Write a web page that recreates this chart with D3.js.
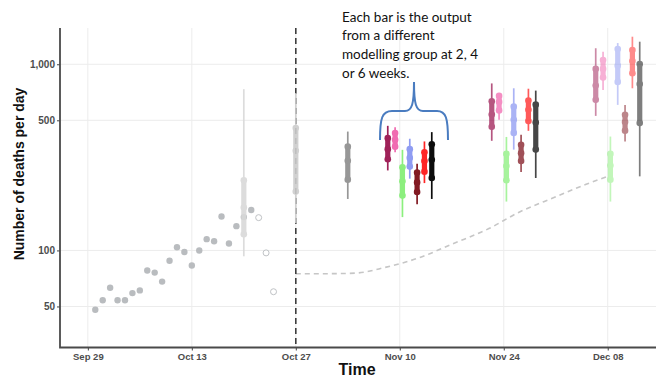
<!DOCTYPE html>
<html>
<head>
<meta charset="utf-8">
<script src="https://cdn.jsdelivr.net/npm/d3@7"></script>
<style>
  html, body { margin: 0; padding: 0; background: #fff; }
  svg { display: block; }
</style>
</head>
<body>
<svg id="chart" width="658" height="378"></svg>
<script>
// ---- Observed daily deaths (filled = complete, open = still being reported)
const observedDates = ["2020-09-30","2020-10-01","2020-10-02","2020-10-03","2020-10-04","2020-10-05",
  "2020-10-06","2020-10-07","2020-10-08","2020-10-09","2020-10-10","2020-10-11","2020-10-12",
  "2020-10-13","2020-10-14","2020-10-15","2020-10-16","2020-10-17","2020-10-18","2020-10-19",
  "2020-10-20","2020-10-21"];
const observedDeaths = [48, 54, 63, 54, 54, 59, 61, 78, 76, 68, 88, 104, 98, 83, 100, 115, 112, 152, 109, 135, 151, 165];
const incompleteDates = ["2020-10-22","2020-10-23","2020-10-24"];
const incompleteDeaths = [150, 97, 60];

// ---- Earlier ensemble projections (grey intervals)
const ensembleDates = ["2020-10-20","2020-10-27","2020-11-03"];
const ensembleColours = ["#d9d9d9", "#cdcdcd", "#8c8c8c"];
const ensembleLo90 = [93, 140, 189];
const ensembleLo50 = [122, 207, 240];
const ensembleMed  = [170, 343, 303];
const ensembleHi50 = [238, 454, 361];
const ensembleHi90 = [735, 700, 435];

// ---- Modelling groups: projections at 2, 4 and 6 weeks
const horizonDates = ["2020-11-10","2020-11-24","2020-12-08"];
const horizonOpacity = [0.95, 0.72, 0.5];
const groupColours = ["#9a1650", "#f064ad", "#86ef78", "#8a97f2", "#7c0e18", "#ff1a1a", "#000000"];
const groupLo90 = [[269, 337, 151, 243, 177, 230, 189], [388, 503, 183, 348, 264, 439, 245], [528, 728, 183, 605, 385, 743, 250]];
const groupLo50 = [[309, 361, 197, 282, 206, 265, 245], [461, 565, 238, 428, 302, 495, 348], [644, 848, 240, 804, 440, 895, 483]];
const groupMed  = [[350, 393, 235, 314, 232, 302, 307], [537, 628, 284, 503, 333, 569, 486], [768, 944, 286, 983, 489, 1041, 784]];
const groupHi50 = [[401, 427, 280, 350, 262, 337, 372], [632, 676, 330, 592, 369, 638, 607], [944, 1055, 330, 1208, 535, 1193, 1004]];
const groupHi90 = [[467, 459, 347, 398, 292, 385, 432], [789, 696, 407, 743, 418, 739, 722], [1219, 1169, 409, 1300, 605, 1406, 1322]];

// ---- Baseline scenario (dashed curve)
const baselineDates = ["2020-10-27","2020-10-31","2020-11-04","2020-11-08","2020-11-13","2020-11-17",
  "2020-11-22","2020-11-26","2020-12-01","2020-12-05","2020-12-08"];
const baselineDeaths = [75, 75, 75.5, 81, 92.5, 108, 131, 160, 194, 226, 250];

// ---- Axes
const xTickDates = ["2020-09-29","2020-10-13","2020-10-27","2020-11-10","2020-11-24","2020-12-08"];
const yTickValues = [50, 100, 500, 1000];
const cutoffDate = "2020-10-27";

const noteLines = ["Each bar is the output", "from a different", "modelling group at 2, 4", "or 6 weeks."];

// ------------------------------------------------------------------
const parse = d3.utcParse("%Y-%m-%d");
const svg = d3.select("#chart");

const plot = { left: 60, right: 656, top: 28, bottom: 347.5 };

const x = d3.scaleUtc()
  .domain([new Date(Date.UTC(2020, 8, 25, 6)), new Date(Date.UTC(2020, 11, 14, 12))])
  .range([plot.left, plot.right]);
const y = d3.scaleLog()
  .domain([30.1, 1566])
  .range([plot.bottom, plot.top]);

// grid
const grid = svg.append("g").attr("stroke", "#ececec").attr("stroke-width", 1);
grid.selectAll("line.v").data(xTickDates).join("line")
  .attr("x1", d => x(parse(d))).attr("x2", d => x(parse(d)))
  .attr("y1", plot.top).attr("y2", plot.bottom);
grid.selectAll("line.h").data(yTickValues).join("line")
  .attr("x1", plot.left).attr("x2", plot.right)
  .attr("y1", d => y(d)).attr("y2", d => y(d));

// baseline scenario curve
const baseline = baselineDates.map((d, i) => [parse(d), baselineDeaths[i]]);
svg.append("path")
  .datum(baseline)
  .attr("fill", "none")
  .attr("stroke", "#c6c6c6")
  .attr("stroke-width", 1.6)
  .attr("stroke-dasharray", "5,4")
  .attr("d", d3.line().x(d => x(d[0])).y(d => y(d[1])).curve(d3.curveMonotoneX));

// observed points
svg.append("g").selectAll("circle").data(observedDates).join("circle")
  .attr("cx", d => x(parse(d)))
  .attr("cy", (d, i) => y(observedDeaths[i]))
  .attr("r", 3.2)
  .attr("fill", "#b9bcbf");
svg.append("g").selectAll("circle").data(incompleteDates).join("circle")
  .attr("cx", d => x(parse(d)))
  .attr("cy", (d, i) => y(incompleteDeaths[i]))
  .attr("r", 3)
  .attr("fill", "#fff")
  .attr("stroke", "#bfc2c5")
  .attr("stroke-width", 1);

// interval mark: thin 90% line, thick 50% bar, dots at quartiles and median
function interval(g, cx, lo90, lo50, med, hi50, hi90, colour, opacity) {
  const m = g.append("g").attr("opacity", opacity);
  m.append("line")
    .attr("x1", cx).attr("x2", cx)
    .attr("y1", y(hi90)).attr("y2", y(lo90))
    .attr("stroke", colour).attr("stroke-width", 1.7);
  m.append("rect")
    .attr("x", cx - 2.6).attr("width", 5.2)
    .attr("y", y(hi50)).attr("height", y(lo50) - y(hi50))
    .attr("fill", colour);
  [lo50, med, hi50].forEach(v => {
    m.append("circle").attr("cx", cx).attr("cy", y(v)).attr("r", 3.3).attr("fill", colour);
  });
}

// dashed cut-off line
svg.append("line")
  .attr("x1", x(parse(cutoffDate))).attr("x2", x(parse(cutoffDate)))
  .attr("y1", plot.top).attr("y2", plot.bottom)
  .attr("stroke", "#3d3d3d").attr("stroke-width", 1.6)
  .attr("stroke-dasharray", "6,4");

const marks = svg.append("g");
ensembleDates.forEach((d, i) => {
  interval(marks, x(parse(d)), ensembleLo90[i], ensembleLo50[i], ensembleMed[i],
    ensembleHi50[i], ensembleHi90[i], ensembleColours[i], 0.9);
});

const dodge = d3.scalePoint().domain(d3.range(groupColours.length)).range([-22, 22]);
horizonDates.forEach((d, h) => {
  const cx0 = x(parse(d)) + 10;
  groupColours.forEach((c, i) => {
    interval(marks, cx0 + dodge(i), groupLo90[h][i], groupLo50[h][i], groupMed[h][i],
      groupHi50[h][i], groupHi90[h][i], c, horizonOpacity[h]);
  });
});

// axes
const xAxis = d3.axisBottom(x)
  .tickValues(xTickDates.map(parse))
  .tickFormat(d3.utcFormat("%b %d"))
  .tickSize(3).tickPadding(3);
const gx = svg.append("g").attr("transform", `translate(0,${plot.bottom})`).call(xAxis);
gx.select(".domain").remove();
gx.selectAll(".tick line").attr("stroke", "#444");
gx.selectAll(".tick text")
  .attr("fill", "#4d4d4d")
  .style("font", "bold 9.5px 'Liberation Sans', Arial, sans-serif");

const yAxis = d3.axisLeft(y)
  .tickValues(yTickValues)
  .tickFormat(d3.format(","))
  .tickSize(3).tickPadding(2);
const gy = svg.append("g").attr("transform", `translate(${plot.left},0)`).call(yAxis);
gy.select(".domain").remove();
gy.selectAll(".tick line").attr("stroke", "#444");
gy.selectAll(".tick text")
  .attr("fill", "#4d4d4d")
  .style("font", "bold 10px 'Liberation Sans', Arial, sans-serif");

svg.append("path")
  .attr("d", `M${plot.left},${plot.top}V${plot.bottom}H${plot.right}`)
  .attr("fill", "none").attr("stroke", "#4a4a4a").attr("stroke-width", 1.8);

// axis titles
svg.append("text")
  .attr("transform", `translate(24,174) rotate(-90)`)
  .attr("text-anchor", "middle")
  .style("font", "bold 14px 'Liberation Sans', Arial, sans-serif")
  .attr("fill", "#111")
  .text("Number of deaths per day");
svg.append("text")
  .attr("x", 357).attr("y", 375)
  .attr("text-anchor", "middle")
  .style("font", "bold 16px 'Liberation Sans', Arial, sans-serif")
  .attr("fill", "#111")
  .text("Time");

// annotation and brace
svg.append("text")
  .attr("x", 342).attr("y", 21.5)
  .style("font", "13.5px Lato, 'Open Sans', sans-serif")
  .attr("fill", "#111")
  .selectAll("tspan").data(noteLines).join("tspan")
  .attr("x", 342)
  .attr("dy", (d, i) => i === 0 ? 0 : 18.7)
  .text(d => d);

svg.append("path")
  .attr("d", "M380,140 C380,118 382,111 392,111 L405,111 C412,111 414,104 414,82 " +
             "C414,104 416,111 423,111 L437,111 C446,111 448,118 448,140")
  .attr("fill", "none")
  .attr("stroke", "#4a7cc0")
  .attr("stroke-width", 2);
</script>
</body>
</html>
